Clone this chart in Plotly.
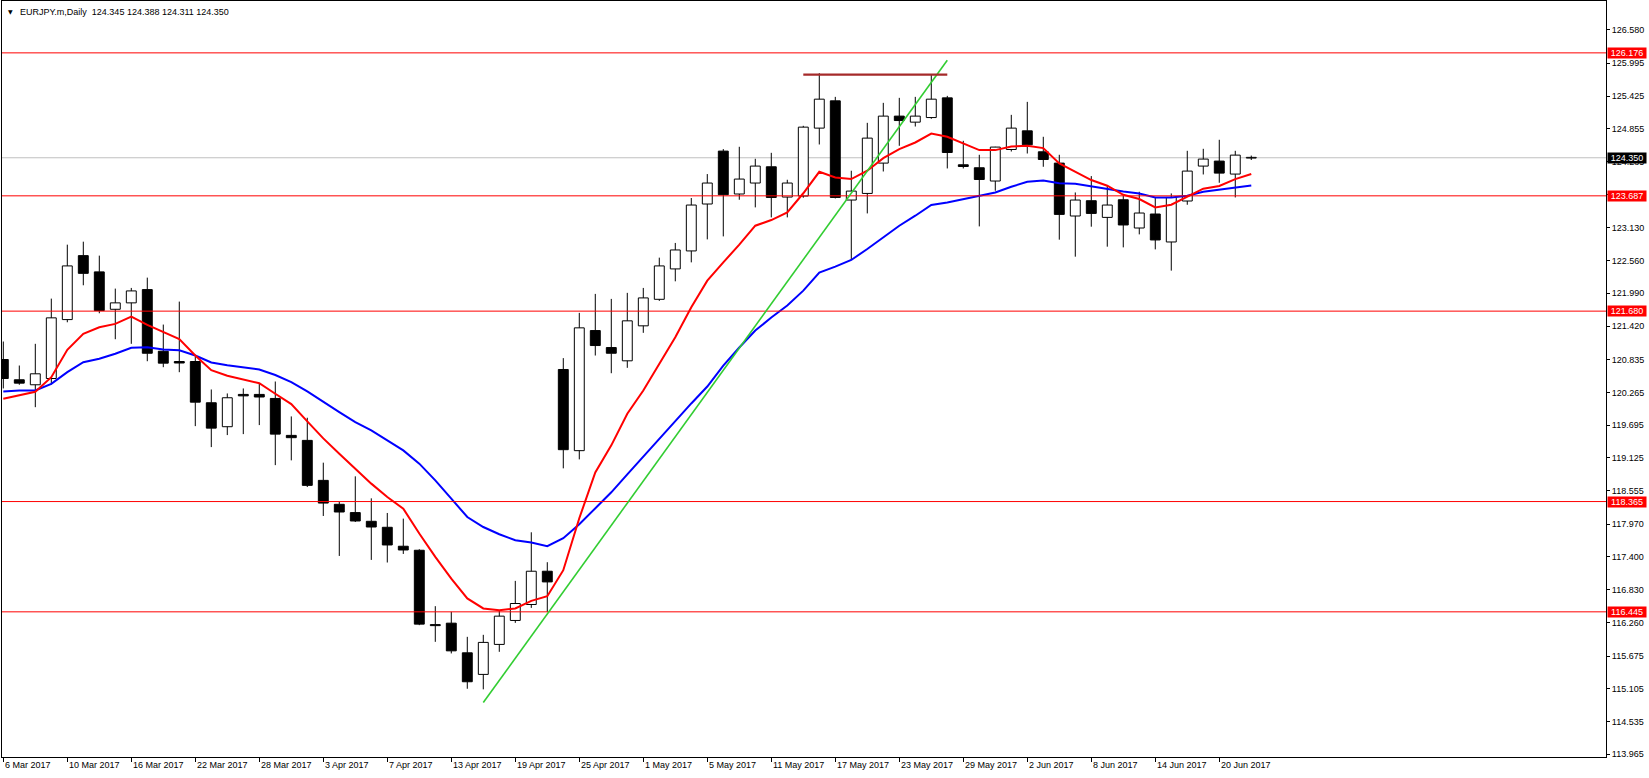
import plotly.graph_objects as go
import pandas as pd

# ---------------- data ----------------
dates = pd.bdate_range("2017-03-06", "2017-06-22")  # 79 daily bars

opens = [120.838, 120.485, 120.398, 120.507, 121.533, 122.646, 122.363, 121.712, 121.824, 122.055,
         120.982, 120.803, 120.803, 120.085, 119.668, 120.230, 120.230, 120.160, 119.517, 119.430,
         118.734, 118.317, 118.173, 118.021, 117.917, 117.587, 117.517, 116.223, 116.248, 115.732,
         115.356, 115.878, 116.295, 116.573, 117.152, 120.664, 119.251, 121.342, 121.046, 120.815,
         121.424, 121.886, 122.415, 122.728, 123.545, 124.466, 123.719, 123.910, 124.193, 123.666,
         123.684, 124.866, 125.341, 123.614, 123.729, 124.257, 125.075, 124.970, 125.050, 125.393,
         124.228, 124.176, 123.945, 124.494, 124.819, 124.454, 124.257, 123.336, 123.602, 123.312,
         123.619, 123.127, 123.371, 122.884, 123.597, 124.205, 124.292, 124.066, 124.345]
highs = [121.151, 120.733, 121.111, 121.898, 122.837, 122.889, 122.646, 122.072, 122.084, 122.263,
         121.446, 121.846, 120.890, 120.316, 120.247, 120.334, 120.415, 120.455, 119.847, 119.824,
         119.042, 118.357, 118.804, 118.421, 118.166, 118.068, 117.535, 116.544, 116.445, 116.010,
         116.045, 116.469, 116.984, 117.830, 117.309, 120.862, 121.650, 121.980, 121.893, 121.998,
         122.084, 122.611, 122.867, 123.649, 124.066, 124.501, 124.541, 124.332, 124.436, 123.967,
         124.906, 125.822, 125.410, 124.124, 124.958, 125.306, 125.393, 125.410, 125.792, 125.427,
         124.645, 124.402, 124.541, 125.097, 125.323, 124.715, 124.402, 123.746, 124.031, 123.863,
         123.689, 123.758, 123.649, 123.729, 124.471, 124.506, 124.663, 124.471, 124.388]
lows = [120.334, 120.398, 120.008, 120.403, 121.486, 122.130, 121.643, 121.191, 121.111, 120.808,
        120.704, 120.617, 119.678, 119.313, 119.522, 119.539, 119.696, 118.999, 119.082, 118.618,
        118.114, 117.418, 118.009, 117.349, 117.304, 117.453, 116.213, 115.923, 115.721, 115.106,
        115.096, 115.749, 116.253, 116.514, 116.445, 118.943, 119.099, 120.907, 120.599, 120.693,
        121.302, 121.858, 122.199, 122.529, 122.929, 122.981, 123.619, 123.486, 123.312, 123.312,
        123.654, 124.581, 123.642, 122.571, 123.381, 124.111, 124.558, 124.894, 125.028, 124.164,
        124.164, 123.155, 123.776, 124.459, 124.424, 124.193, 122.924, 122.628, 123.150, 122.802,
        122.790, 123.016, 122.755, 122.385, 123.532, 124.059, 123.915, 123.659, 124.311]
closes = [120.507, 120.426, 120.589, 121.563, 122.467, 122.338, 121.690, 121.824, 122.032, 120.947,
          120.774, 120.777, 120.095, 119.643, 120.172, 120.205, 120.185, 119.539, 119.477, 118.647,
          118.339, 118.183, 118.027, 117.922, 117.609, 117.522, 116.231, 116.205, 115.766, 115.228,
          115.913, 116.370, 116.590, 117.152, 116.966, 119.268, 121.389, 121.081, 120.947, 121.511,
          121.910, 122.467, 122.745, 123.527, 123.910, 123.706, 123.979, 124.205, 123.659, 123.910,
          124.883, 125.370, 123.659, 123.770, 124.692, 125.075, 124.998, 125.075, 125.370, 124.442,
          124.198, 123.972, 124.536, 124.866, 124.576, 124.320, 123.364, 123.614, 123.381, 123.527,
          123.180, 123.388, 122.919, 123.659, 124.118, 124.327, 124.083, 124.396, 124.350]

ma_red = [120.155, 120.212, 120.276, 120.530, 121.006, 121.285, 121.399, 121.458, 121.585, 121.441,
          121.312, 121.194, 120.907, 120.652, 120.554, 120.487, 120.426, 120.242, 120.061, 119.760,
          119.464, 119.198, 118.938, 118.677, 118.444, 118.242, 117.808, 117.401, 117.025, 116.678,
          116.504, 116.474, 116.504, 116.636, 116.718, 117.170, 118.074, 118.873, 119.343, 119.894,
          120.299, 120.763, 121.226, 121.747, 122.211, 122.529, 122.837, 123.167, 123.266, 123.399,
          123.732, 124.106, 124.007, 123.979, 124.124, 124.344, 124.501, 124.616, 124.772, 124.715,
          124.605, 124.483, 124.483, 124.546, 124.558, 124.518, 124.250, 124.103, 123.962, 123.863,
          123.706, 123.632, 123.486, 123.532, 123.672, 123.811, 123.858, 123.979, 124.066]
ma_blue = [120.282, 120.299, 120.299, 120.415, 120.617, 120.791, 120.850, 120.937, 121.041, 121.052,
           121.012, 120.999, 120.907, 120.786, 120.739, 120.699, 120.664, 120.568, 120.443, 120.282,
           120.096, 119.922, 119.748, 119.603, 119.430, 119.256, 119.025, 118.734, 118.416, 118.096,
           117.922, 117.796, 117.691, 117.651, 117.587, 117.726, 117.969, 118.247, 118.526, 118.839,
           119.151, 119.464, 119.760, 120.073, 120.368, 120.733, 121.046, 121.342, 121.568, 121.777,
           122.037, 122.350, 122.455, 122.571, 122.762, 122.964, 123.167, 123.341, 123.527, 123.572,
           123.632, 123.684, 123.746, 123.845, 123.932, 123.955, 123.906, 123.898, 123.851, 123.816,
           123.764, 123.729, 123.659, 123.659, 123.689, 123.758, 123.793, 123.833, 123.868]

date_labels = ["6 Mar 2017", "10 Mar 2017", "16 Mar 2017", "22 Mar 2017", "28 Mar 2017",
               "3 Apr 2017", "7 Apr 2017", "13 Apr 2017", "19 Apr 2017", "25 Apr 2017",
               "1 May 2017", "5 May 2017", "11 May 2017", "17 May 2017", "23 May 2017",
               "29 May 2017", "2 Jun 2017", "8 Jun 2017", "14 Jun 2017", "20 Jun 2017"]

price_ticks = [126.580, 125.995, 125.425, 124.855, 124.285, 123.715, 123.130, 122.560, 121.990,
               121.420, 120.835, 120.265, 119.695, 119.125, 118.555, 117.970, 117.400, 116.830,
               116.260, 115.675, 115.105, 114.535, 113.965]

levels = [126.176, 123.687, 121.680, 118.365, 116.445]
last_price = 124.350
title_text = "EURJPY.m,Daily  124.345 124.388 124.311 124.350"

trend_dates = ["2017-04-17", "2017-05-26"]
trend_prices = [114.866, 126.048]
resist_dates = ["2017-05-15", "2017-05-26"]
resist_price = 125.798

# ---------------- figure ----------------
FONT = "Liberation Sans, Arial, sans-serif"
date_str = [d.strftime("%Y-%m-%d") for d in dates]
idx = list(range(len(dates)))
pos = {d: i for i, d in enumerate(date_str)}
label_idx = [pos[pd.Timestamp(l).strftime("%Y-%m-%d")] for l in date_labels]

bull = [c >= o for o, c in zip(opens, closes)]
body_lo = [min(o, c) for o, c in zip(opens, closes)]
body_hi = [max(o, c) for o, c in zip(opens, closes)]
body_h = [max(h - l, 0.012) for h, l in zip(body_hi, body_lo)]

wx, wy = [], []
for i in idx:
    wx += [i, i, None, i, i, None]
    wy += [highs[i], body_hi[i], None, body_lo[i], lows[i], None]

fig = go.Figure()
fig.add_trace(go.Scatter(x=wx, y=wy, mode="lines", line=dict(color="black", width=1),
                         hoverinfo="skip", showlegend=False))
fig.add_trace(go.Bar(x=idx, y=body_h, base=body_lo, width=0.62,
                     marker=dict(color=["white" if b else "black" for b in bull],
                                 line=dict(color="black", width=1)),
                     customdata=list(zip(date_str, opens, highs, lows, closes)),
                     hovertemplate="%{customdata[0]}<br>O %{customdata[1]:.3f} H %{customdata[2]:.3f}"
                                   " L %{customdata[3]:.3f} C %{customdata[4]:.3f}<extra></extra>",
                     showlegend=False))
fig.add_trace(go.Scatter(x=idx, y=ma_blue, mode="lines", line=dict(color="#0000FF", width=2),
                         showlegend=False, hoverinfo="skip"))
fig.add_trace(go.Scatter(x=idx, y=ma_red, mode="lines", line=dict(color="#FF0000", width=2),
                         showlegend=False, hoverinfo="skip"))

shapes = []
shapes.append(dict(type="line", xref="paper", x0=0, x1=1, yref="y", y0=last_price, y1=last_price,
                   line=dict(color="#C0C0C0", width=1), layer="below"))
for lv in levels:
    shapes.append(dict(type="line", xref="paper", x0=0, x1=1, yref="y", y0=lv, y1=lv,
                       line=dict(color="#FF0000", width=1), layer="above"))
shapes.append(dict(type="line", xref="x", yref="y",
                   x0=pos[trend_dates[0]], y0=trend_prices[0],
                   x1=pos[trend_dates[1]], y1=trend_prices[1],
                   line=dict(color="#32CD32", width=1.6), layer="above"))
shapes.append(dict(type="line", xref="x", yref="y",
                   x0=pos[resist_dates[0]], y0=resist_price,
                   x1=pos[resist_dates[1]], y1=resist_price,
                   line=dict(color="#A52A2A", width=2.2), layer="above"))

annotations = []
for li, lt in zip(label_idx, date_labels):
    annotations.append(dict(x=li, y=0, xref="x", yref="paper", text=lt, showarrow=False,
                            xanchor="left", yanchor="top", xshift=0, yshift=-1,
                            font=dict(family=FONT, size=9, color="black")))
for lv in levels:
    annotations.append(dict(x=1, y=lv, xref="paper", yref="y", text=f"{lv:.3f}", showarrow=False,
                            xanchor="left", yanchor="middle", xshift=1, width=38, height=10,
                            borderpad=0, bgcolor="#FF0000",
                            font=dict(family=FONT, size=9, color="white")))
annotations.append(dict(x=1, y=last_price, xref="paper", yref="y", text=f"{last_price:.3f}",
                        showarrow=False, xanchor="left", yanchor="middle", xshift=1, width=38,
                        height=10, borderpad=0, bgcolor="#000000",
                        font=dict(family=FONT, size=9, color="white")))
annotations.append(dict(x=0, y=1, xref="paper", yref="paper", text="▼", showarrow=False,
                        xanchor="left", yanchor="top", xshift=4, yshift=-5,
                        font=dict(family="DejaVu Sans", size=6, color="black")))
annotations.append(dict(x=0, y=1, xref="paper", yref="paper", text=title_text, showarrow=False,
                        xanchor="left", yanchor="top", xshift=16, yshift=-4,
                        font=dict(family=FONT, size=9, color="black")))

fig.update_layout(
    width=1649, height=778, autosize=False,
    margin=dict(l=2, r=43, t=1, b=21),
    paper_bgcolor="white", plot_bgcolor="white",
    barmode="overlay", showlegend=False,
    shapes=shapes, annotations=annotations,
    xaxis=dict(range=[-0.081, 100.17], showgrid=False, zeroline=False,
               showline=True, linecolor="black", linewidth=1, mirror=True,
               ticks="outside", ticklen=4, tickcolor="black", tickwidth=1,
               tickvals=label_idx, showticklabels=False, fixedrange=True),
    yaxis=dict(side="right", range=[113.918, 127.079], showgrid=False, zeroline=False,
               showline=True, linecolor="black", linewidth=1, mirror=True,
               ticks="outside", ticklen=3, tickcolor="black", tickwidth=1,
               tickvals=price_ticks, ticktext=[f"{v:.3f}" for v in price_ticks],
               tickfont=dict(family=FONT, size=9, color="black"), fixedrange=True),
)

fig.write_html("out.html", config={"displayModeBar": False},
               post_script="document.body.style.margin='0';document.body.style.overflow='hidden';")
